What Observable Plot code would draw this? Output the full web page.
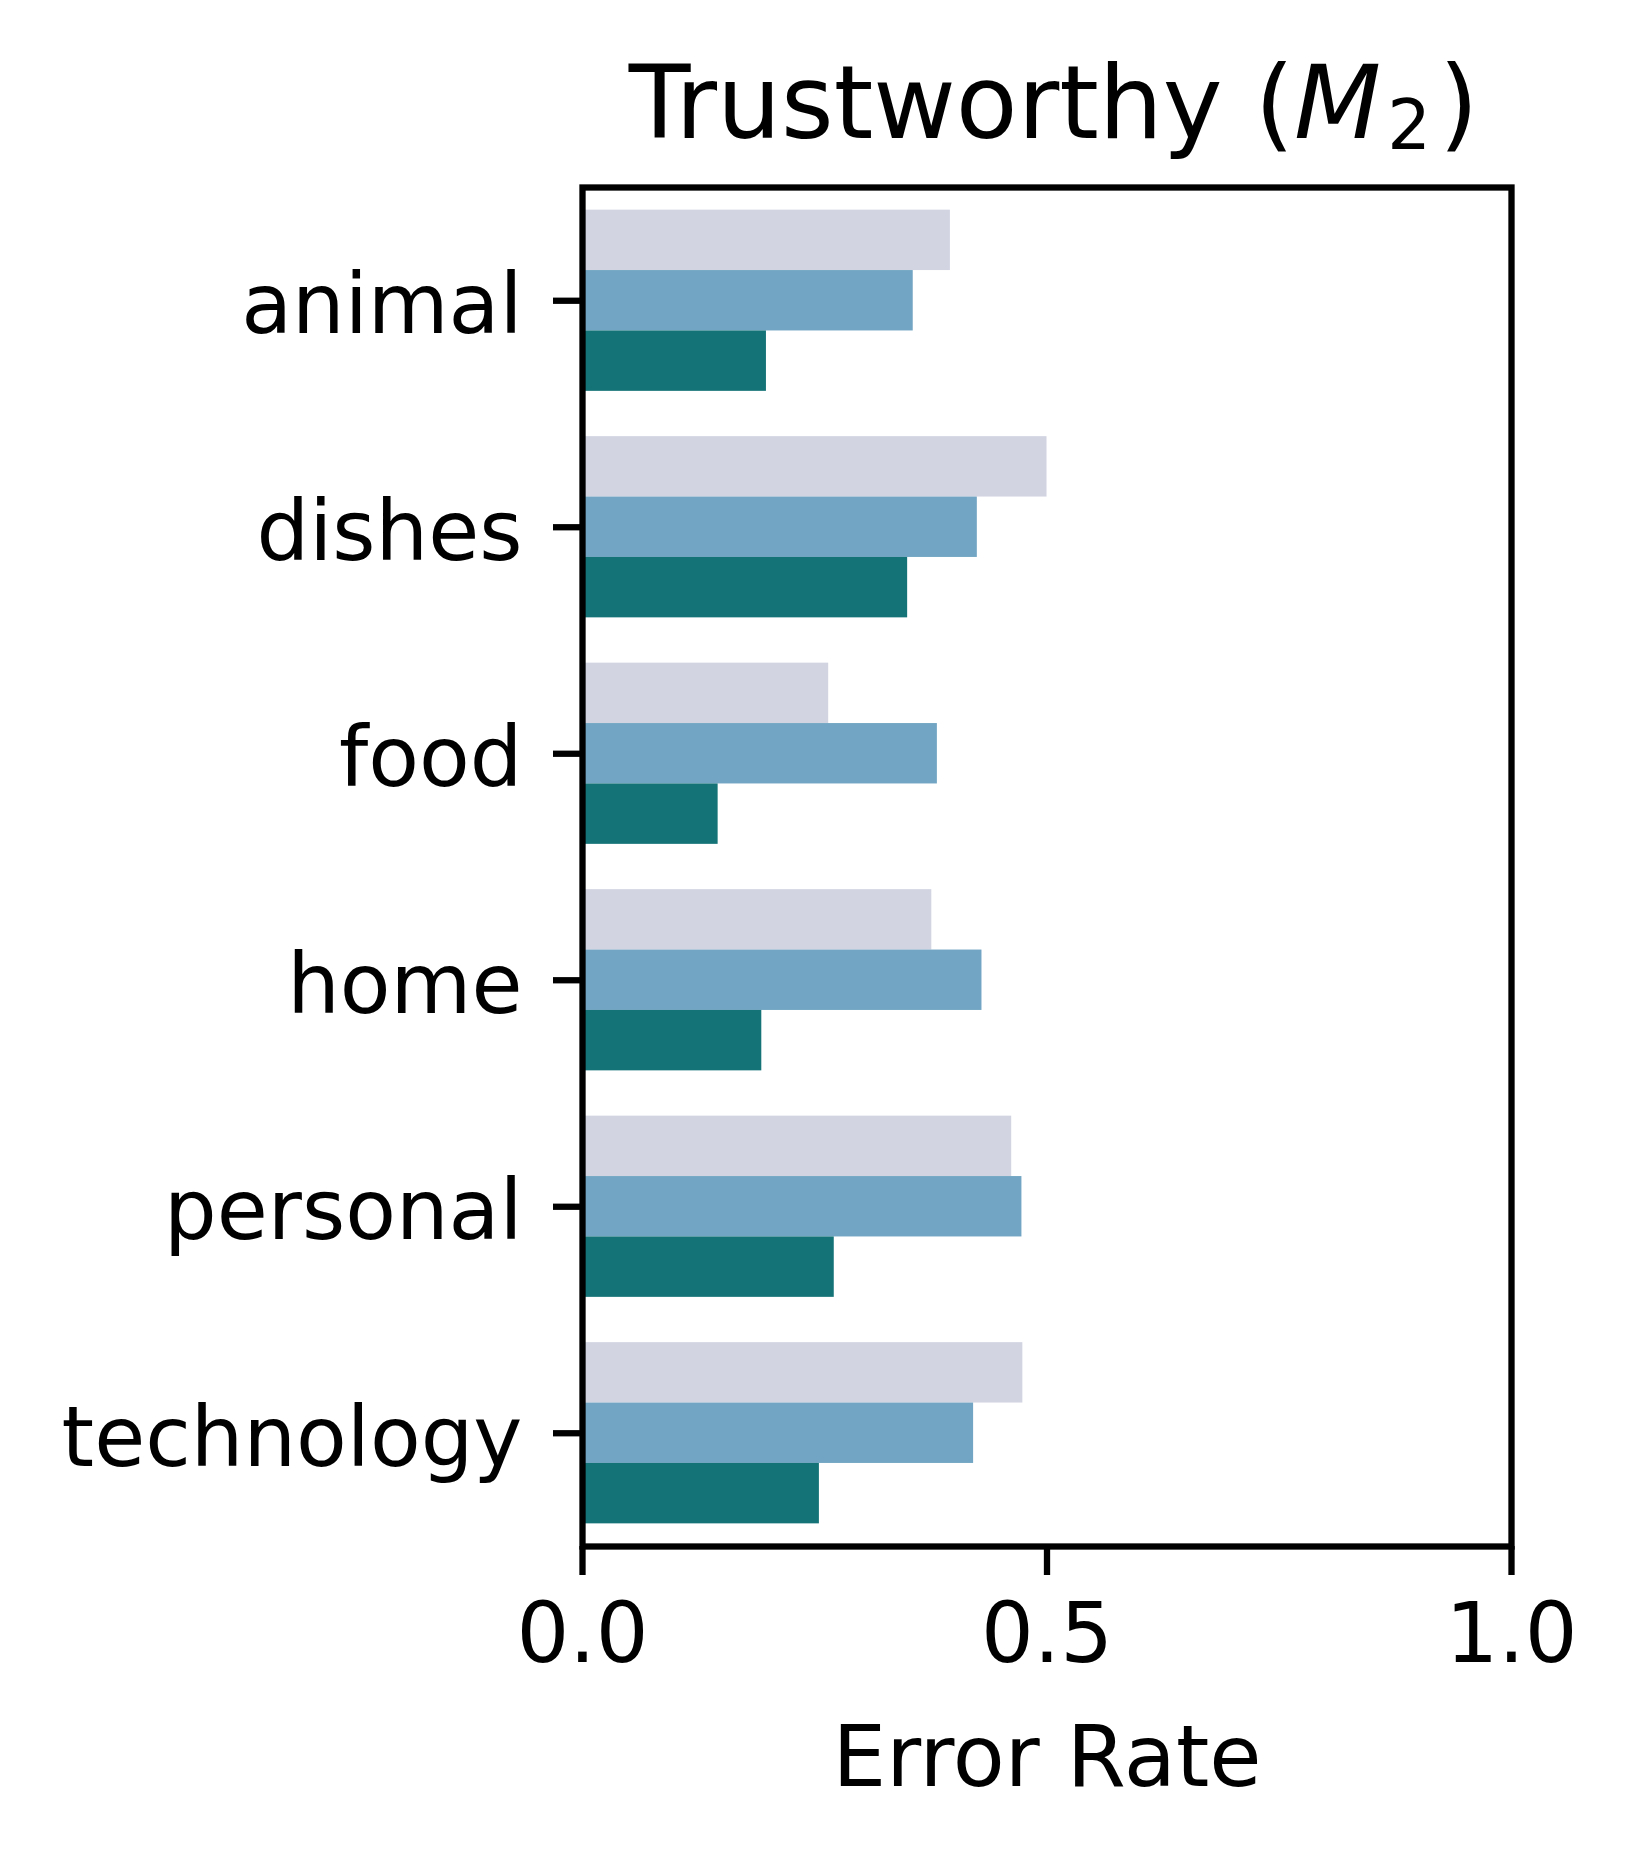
<!DOCTYPE html>
<html>
<head>
<meta charset="utf-8">
<script src="https://cdn.jsdelivr.net/npm/d3@7"></script>
<script src="https://cdn.jsdelivr.net/npm/@observablehq/plot@0.6"></script>
<style>
  html, body { margin: 0; padding: 0; background: #ffffff; }
  #wrap { width: 1637px; font-family: "DejaVu Sans", sans-serif; color: #000; }
  #title {
    box-sizing: border-box;
    width: 1637px;
    padding-left: 596px;
    padding-right: 126px;
    padding-top: 44px;
    height: 162px;
    font-size: 101px;
    line-height: 118px;
    text-align: center;
    white-space: nowrap;
  }
  #title sub { font-size: 68%; line-height: 0; vertical-align: -0.16em; margin-left: 6px; }
  #title .rp { margin-left: 8px; }
  #chart svg { display: block; }
</style>
</head>
<body>
<div id="wrap">
  <div id="title">Trustworthy (<i>M</i><sub>2</sub><span class="rp">)</span></div>
  <div id="chart"></div>
</div>
<script>
const categories = ["animal", "dishes", "food", "home", "personal", "technology"];
const seriesNames = ["Series 1", "Series 2", "Series 3"];
const seriesColors = ["#d2d4e2", "#72a5c3", "#147377"];
const series1 = [0.396, 0.500, 0.265, 0.376, 0.462, 0.474];
const series2 = [0.356, 0.425, 0.382, 0.430, 0.473, 0.421];
const series3 = [0.198, 0.350, 0.146, 0.193, 0.271, 0.255];
const xTicks = [0, 0.5, 1];
const xLabel = "Error Rate";

const W = 1637, H = 1698;
const M = {top: 25, right: 126, bottom: 314, left: 582};
const padInner = 0.2, padOuter = 0.1;

const seriesValues = [series1, series2, series3];
const rows = seriesNames.map((s, j) =>
  categories.map((c, i) => ({category: c, series: s, value: seriesValues[j][i]}))
);

// band geometry derived from the layout (group = band of the y scale, split evenly by series)
const plotH = H - M.top - M.bottom;
const step = plotH / (categories.length - padInner + 2 * padOuter);
const bw = step * (1 - padInner);
const sub = bw / seriesNames.length;

const chart = Plot.plot({
  width: W,
  height: H,
  marginLeft: M.left,
  marginRight: M.right,
  marginTop: M.top,
  marginBottom: M.bottom,
  style: {fontFamily: "DejaVu Sans", fontSize: "83px", color: "#000", background: "#fff", overflow: "visible"},
  x: {domain: [0, 1], round: false},
  y: {domain: categories, paddingInner: padInner, paddingOuter: padOuter, round: false},
  color: {domain: seriesNames, range: seriesColors},
  marks: [
    ...rows.map((data, j) =>
      Plot.barX(data, {
        y: "category", x: "value", fill: "series",
        insetTop: j * sub,
        insetBottom: (seriesNames.length - 1 - j) * sub
      })
    ),
    Plot.frame({stroke: "#000", strokeWidth: 6.3}),
    Plot.axisX({
      ticks: xTicks,
      tickFormat: d3.format(".1f"),
      tickSize: 29,
      tickPadding: 28,
      strokeWidth: 6.3,
      fontSize: 83,
      label: null
    }),
    Plot.axisX({
      ticks: [],
      tickSize: 0,
      fontSize: 85,
      label: xLabel,
      labelAnchor: "center",
      labelArrow: "none",
      labelOffset: 239
    }),
    Plot.axisY({
      tickSize: 29,
      strokeWidth: 6.3,
      tickFormat: () => "",
      label: null
    }),
    Plot.axisY({
      tickSize: 0,
      tickPadding: 29 + 31,
      dy: 6,
      fontSize: 83,
      label: null
    })
  ]
});
document.getElementById("chart").appendChild(chart);
</script>
</body>
</html>
